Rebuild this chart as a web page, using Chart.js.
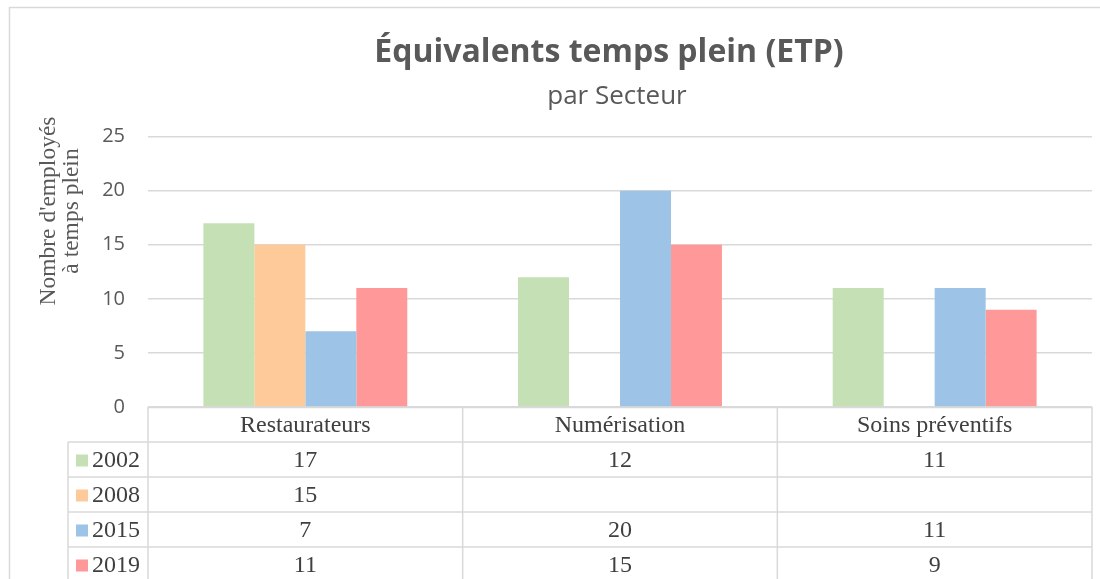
<!DOCTYPE html>
<html>
<head>
<meta charset="utf-8">
<script src="https://cdn.jsdelivr.net/npm/chart.js@4"></script>
<style>
  html, body { margin: 0; padding: 0; background: #ffffff; overflow: hidden; }
  canvas { display: block; }
</style>
</head>
<body>
<canvas id="c" width="1100" height="579"></canvas>
<script>
const categories = ["Restaurateurs", "Numérisation", "Soins préventifs"];
const seriesNames = ["2002", "2008", "2015", "2019"];
const values2002 = [17, 12, 11];
const values2008 = [15, null, null];
const values2015 = [7, 20, 11];
const values2019 = [11, 15, 9];
const seriesColors = ["#C5E0B4", "#FFCA99", "#9DC3E6", "#FF9999"];
const yTicks = [0, 5, 10, 15, 20, 25];
const titleText = "Équivalents temps plein (ETP)";
const subtitleText = "par Secteur";
const yTitleLines = ["Nombre d'employés", "à temps plein"];

const seriesValues = [values2002, values2008, values2015, values2019];

const GRID = "#D9D9D9";
const TEXT = "#595959";
const TABLE_TEXT = "#404040";
const SERIF = "'Liberation Serif', 'Times New Roman', serif";
const SANS = "'Open Sans', 'Noto Sans', sans-serif";

const ROW_H = 35;

const decorPlugin = {
  id: 'decor',
  afterLayout(chart) {
    chart.boxes.forEach(b => {
      if (b.options && b.options.text === titleText) {
        b.left = 609 - 500; b.right = 609 + 500;
      } else if (b.options && b.options.text === subtitleText) {
        b.left = 617 - 500; b.right = 617 + 500;
      }
    });
  },
  beforeDraw(chart) {
    const ctx = chart.ctx;
    ctx.save();
    ctx.fillStyle = '#ffffff';
    ctx.fillRect(0, 0, chart.width, chart.height);
    ctx.strokeStyle = GRID;
    ctx.lineWidth = 1.5;
    ctx.beginPath();
    ctx.moveTo(9.5, chart.height + 5);
    ctx.lineTo(9.5, 7.5);
    ctx.lineTo(chart.width + 5, 7.5);
    ctx.stroke();
    ctx.restore();
  },
  afterDraw(chart) {
    const ctx = chart.ctx;
    const area = chart.chartArea;
    const xs = chart.scales.x;
    const n = categories.length;
    const left = area.left, right = area.right, top = area.bottom;
    const colW = (right - left) / n;
    const legendLeft = 68;

    ctx.save();
    // Y-axis title
    ctx.fillStyle = TEXT;
    ctx.font = "23.5px " + SERIF;
    ctx.textAlign = 'center';
    ctx.textBaseline = 'middle';
    const yCenter = 211;
    const xLines = [49, 72];
    yTitleLines.forEach((line, i) => {
      ctx.save();
      ctx.translate(xLines[i], yCenter);
      ctx.rotate(-Math.PI / 2);
      ctx.fillText(line, 0, 0);
      ctx.restore();
    });

    // Table grid
    ctx.strokeStyle = GRID;
    ctx.lineWidth = 1.5;
    ctx.beginPath();
    ctx.moveTo(left, top + 0.5);
    ctx.lineTo(right, top + 0.5);
    for (let r = 1; r <= seriesNames.length; r++) {
      const y = top + r * ROW_H;
      ctx.moveTo(legendLeft, y);
      ctx.lineTo(right, y);
    }
    for (let c = 0; c <= n; c++) {
      const x = left + c * colW;
      ctx.moveTo(x, top);
      ctx.lineTo(x, chart.height + 5);
    }
    ctx.moveTo(legendLeft, top + ROW_H);
    ctx.lineTo(legendLeft, chart.height + 5);
    ctx.stroke();

    // header text
    ctx.fillStyle = TABLE_TEXT;
    ctx.font = "24px " + SERIF;
    ctx.textAlign = 'center';
    ctx.textBaseline = 'middle';
    categories.forEach((cat, i) => {
      const cx = xs.getPixelForValue(i);
      ctx.fillText(cat, cx, top + ROW_H / 2 + 1);
    });

    // rows
    seriesNames.forEach((name, r) => {
      const cy = top + (r + 1) * ROW_H + ROW_H / 2 + 1;
      ctx.fillStyle = seriesColors[r];
      ctx.fillRect(76, cy - 6, 12, 12);
      ctx.fillStyle = TABLE_TEXT;
      ctx.textAlign = 'left';
      ctx.fillText(name, 92, cy);
      ctx.textAlign = 'center';
      seriesValues[r].forEach((v, i) => {
        if (v !== null && v !== undefined) {
          ctx.fillText(String(v), xs.getPixelForValue(i), cy);
        }
      });
    });
    ctx.restore();
  }
};

new Chart(document.getElementById('c'), {
  type: 'bar',
  data: {
    labels: categories,
    datasets: seriesNames.map((name, i) => ({
      label: name,
      data: seriesValues[i],
      backgroundColor: seriesColors[i],
      borderWidth: 0,
      categoryPercentage: 0.648,
      barPercentage: 1.0
    }))
  },
  options: {
    responsive: false,
    animation: false,
    events: [],
    layout: { padding: { left: 0, right: 8, top: 0, bottom: 172 } },
    plugins: {
      legend: { display: false },
      tooltip: { enabled: false },
      title: {
        display: true,
        text: titleText,
        color: TEXT,
        font: { family: SANS, size: 32, weight: 'bold' },
        padding: { top: 34, bottom: 4 }
      },
      subtitle: {
        display: true,
        text: subtitleText,
        color: TEXT,
        font: { family: SANS, size: 26 },
        padding: { top: 5, bottom: 24 }
      }
    },
    scales: {
      x: {
        display: false,
        grid: { display: false }
      },
      y: {
        min: 0,
        max: 25,
        afterBuildTicks(scale) { scale.ticks = yTicks.map(v => ({ value: v })); },
        afterFit(scale) { scale.width = 148; },
        grid: { color: GRID, lineWidth: 1.5, drawTicks: false },
        border: { display: false },
        ticks: {
          color: TEXT,
          padding: 23,
          font: { family: SANS, size: 20 }
        }
      }
    }
  },
  plugins: [decorPlugin]
});
</script>
</body>
</html>
